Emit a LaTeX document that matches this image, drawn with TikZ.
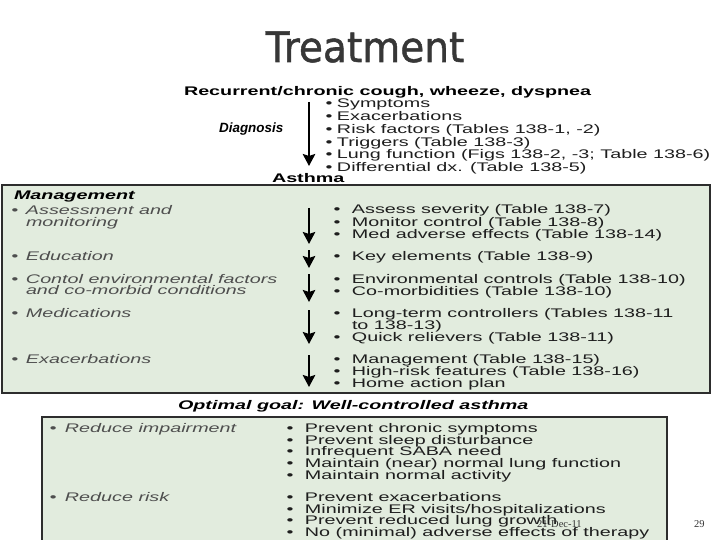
\documentclass[tikz,border=0pt]{standalone}
\usepackage{fontspec}
\usepackage{graphicx}
\setmainfont{Liberation Sans}
\newfontfamily\bodyfont[FakeStretch=1.58]{Liberation Sans}
\newfontfamily\diagfont{Liberation Sans}
\newfontfamily\titlefont[FakeBold=1.2]{DejaVu Sans}
\newfontfamily\footfont{Liberation Serif}
\usetikzlibrary{arrows.meta}
\definecolor{boxfill}{RGB}{226,236,222}
\definecolor{boxline}{RGB}{45,45,45}
\definecolor{txt}{RGB}{30,30,30}
\definecolor{ltxt}{RGB}{78,78,78}
\definecolor{titlecol}{RGB}{55,55,55}
\newcommand\itmark[1]{\makebox[#1pt][l]{•}}
\tikzset{
  item/.style={anchor=base west, inner sep=0, outer sep=0, font=\bodyfont\fontsize{12.5}{14}\selectfont, text=txt},
  litem/.style={item, font=\bodyfont\fontsize{12.5}{14}\selectfont\itshape, text=ltxt},
  bitem/.style={item, font=\bodyfont\fontsize{12.5}{14}\selectfont\bfseries, text=black},
  hitem/.style={item, font=\bodyfont\fontsize{12.5}{14}\selectfont\bfseries\itshape, text=black},
  arr/.style={line width=2.2pt, draw=black, -{Stealth[length=12pt,width=12.5pt,inset=2pt]}},
  panel/.style={draw=boxline, line width=2pt, fill=boxfill},
}
\begin{document}
\begin{tikzpicture}[x=1pt,y=-1pt]
\fill[white] (0,0) rectangle (720,540);
\path[use as bounding box] (0,0) rectangle (720,540);

% title
\node[anchor=base, inner sep=0, font=\titlefont\fontsize{42}{42}\selectfont, text=titlecol] (title) at (365,62) {\scalebox{0.93}[1]{Treatment}};

% diagnosis
\node[bitem] (rec) at (184,95.5) {Recurrent/chronic cough, wheeze, dyspnea};
\node[anchor=base west, inner sep=0, font=\diagfont\fontsize{13.4}{15}\selectfont\bfseries\itshape] (diag) at (219,133) {Diagnosis};
\node[item] (d1) at (325.5,108)   {\itmark{11.5}Symptoms};
\node[item] (d2) at (325.5,120.7) {\itmark{11.5}Exacerbations};
\node[item] (d3) at (325.5,133.4) {\itmark{11.5}Risk factors (Tables 138-1, -2)};
\node[item] (d4) at (325.5,146.1) {\itmark{11.5}Triggers (Table 138-3)};
\node[item] (d5) at (325.5,158.8) {\itmark{11.5}Lung function (Figs 138-2, -3; Table 138-6)};
\node[item] (d6) at (325.5,171.5) {\itmark{11.5}Differential dx. (Table 138-5)};
\node[bitem] (asthma) at (272,183) {Asthma};
\coordinate (da) at (309,102);
\coordinate (db) at (309,166);
\draw[arr] (da) -- (db);

% management panel
\path[panel] (2,185) rectangle (710,393);
\node[hitem] (mgmt) at (14,199.5) {Management};
\node[litem] (l1) at (11.5,214.5) {\itmark{14.5}Assessment and};
\node[litem] (l1b) at (26,226.5) {monitoring};
\node[litem] (l2) at (11.5,260) {\itmark{14.5}Education};
\node[litem] (l3) at (11.5,283) {\itmark{14.5}Contol environmental factors};
\node[litem] (l3b) at (26,294.5) {and co-morbid conditions};
\node[litem] (l4) at (11.5,317) {\itmark{14.5}Medications};
\node[litem] (l5) at (11.5,363) {\itmark{14.5}Exacerbations};

\node[item] (r1) at (333.5,213.5) {\itmark{18.5}Assess severity (Table 138-7)};
\node[item] (r2) at (333.5,226)   {\itmark{18.5}Monitor control (Table 138-8)};
\node[item] (r3) at (333.5,238.5) {\itmark{18.5}Med adverse effects (Table 138-14)};
\node[item] (r4) at (333.5,260)   {\itmark{18.5}Key elements (Table 138-9)};
\node[item] (r5) at (333.5,283)   {\itmark{18.5}Environmental controls (Table 138-10)};
\node[item] (r6) at (333.5,295)   {\itmark{18.5}Co-morbidities (Table 138-10)};
\node[item] (r7) at (333.5,317)   {\itmark{18.5}Long-term controllers (Tables 138-11};
\node[item] (r7b) at (352,329)    {to 138-13)};
\node[item] (r8) at (333.5,341)   {\itmark{18.5}Quick relievers (Table 138-11)};
\node[item] (r9) at (333.5,363)   {\itmark{18.5}Management (Table 138-15)};
\node[item] (r10) at (333.5,375)  {\itmark{18.5}High-risk features (Table 138-16)};
\node[item] (r11) at (333.5,387)  {\itmark{18.5}Home action plan};

\coordinate (a1s) at (309,208); \coordinate (a1e) at (309,244);
\coordinate (a2s) at (309,250); \coordinate (a2e) at (309,268);
\coordinate (a3s) at (309,274); \coordinate (a3e) at (309,302);
\coordinate (a4s) at (309,310); \coordinate (a4e) at (309,344);
\coordinate (a5s) at (309,355); \coordinate (a5e) at (309,387);
\draw[arr] (a1s) -- (a1e);
\draw[arr] (a2s) -- (a2e);
\draw[arr] (a3s) -- (a3e);
\draw[arr] (a4s) -- (a4e);
\draw[arr] (a5s) -- (a5e);

% goal
\node[hitem] (goal) at (178,409) {Optimal goal: Well-controlled asthma};

% goal panel
\path[panel] (42,417) rectangle (667,550);
\node[litem] (g1) at (49.5,432.5) {\itmark{15.5}Reduce impairment};
\node[litem] (g2) at (49.5,501.5) {\itmark{15.5}Reduce risk};
\node[item] (p1) at (286.5,432.5) {\itmark{18.5}Prevent chronic symptoms};
\node[item] (p2) at (286.5,444.2) {\itmark{18.5}Prevent sleep disturbance};
\node[item] (p3) at (286.5,455.9) {\itmark{18.5}Infrequent SABA need};
\node[item] (p4) at (286.5,467.6) {\itmark{18.5}Maintain (near) normal lung function};
\node[item] (p5) at (286.5,479.3) {\itmark{18.5}Maintain normal activity};
\node[item] (q1) at (286.5,501.5) {\itmark{18.5}Prevent exacerbations};
\node[item] (q2) at (286.5,513.2) {\itmark{18.5}Minimize ER visits/hospitalizations};
\node[item] (q3) at (286.5,524.9) {\itmark{18.5}Prevent reduced lung growth};
\node[item] (q4) at (286.5,536.6) {\itmark{18.5}No (minimal) adverse effects of therapy};

% footer
\node[anchor=base west, inner sep=0, font=\footfont\fontsize{10.5}{12}\selectfont, text=black!80] (date) at (537,527) {21-Dec-11};
\node[anchor=base west, inner sep=0, font=\footfont\fontsize{10.5}{12}\selectfont, text=black!80] (page) at (694,527) {29};
\end{tikzpicture}
\end{document}
